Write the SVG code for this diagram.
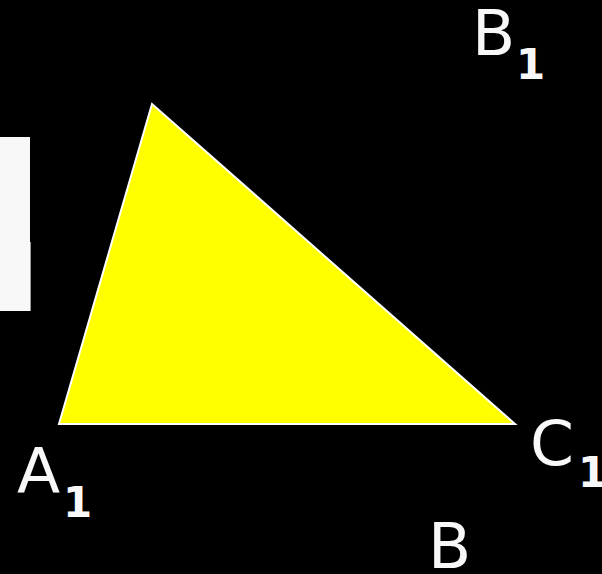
<svg xmlns="http://www.w3.org/2000/svg" width="602" height="574" viewBox="0 0 602 574">
<style>
.lbl{font-family:"DejaVu Sans",Verdana,sans-serif;font-size:63px;fill:#f8f8f8}
.sub{font-family:"DejaVu Sans",Verdana,sans-serif;font-size:42px;font-weight:bold;fill:#f8f8f8}
</style>
<rect x="0" y="0" width="602" height="574" fill="#000"/>
<g id="bar"><rect x="0" y="137" width="30" height="174" fill="#f8f8f8"/><line x1="30.5" y1="242" x2="30.5" y2="311" stroke="#9a9a9a" stroke-width="1"/></g>
<g id="triangle"><polygon points="152,104 59,424 515,424" fill="#ffff00" stroke="#ffffff" stroke-width="2" stroke-linejoin="miter"/></g>
<g id="labelB1"><text class="lbl" x="472" y="55">B</text><text class="sub" x="516" y="79">1</text></g>
<g id="labelA1"><text class="lbl" x="17" y="493">A</text><text class="sub" x="63" y="517">1</text></g>
<g id="labelC1"><text class="lbl" x="530" y="465">C</text><text class="sub" x="578" y="487">1</text></g>
<g id="labelB"><text class="lbl" x="428" y="568">B</text></g>
</svg>
